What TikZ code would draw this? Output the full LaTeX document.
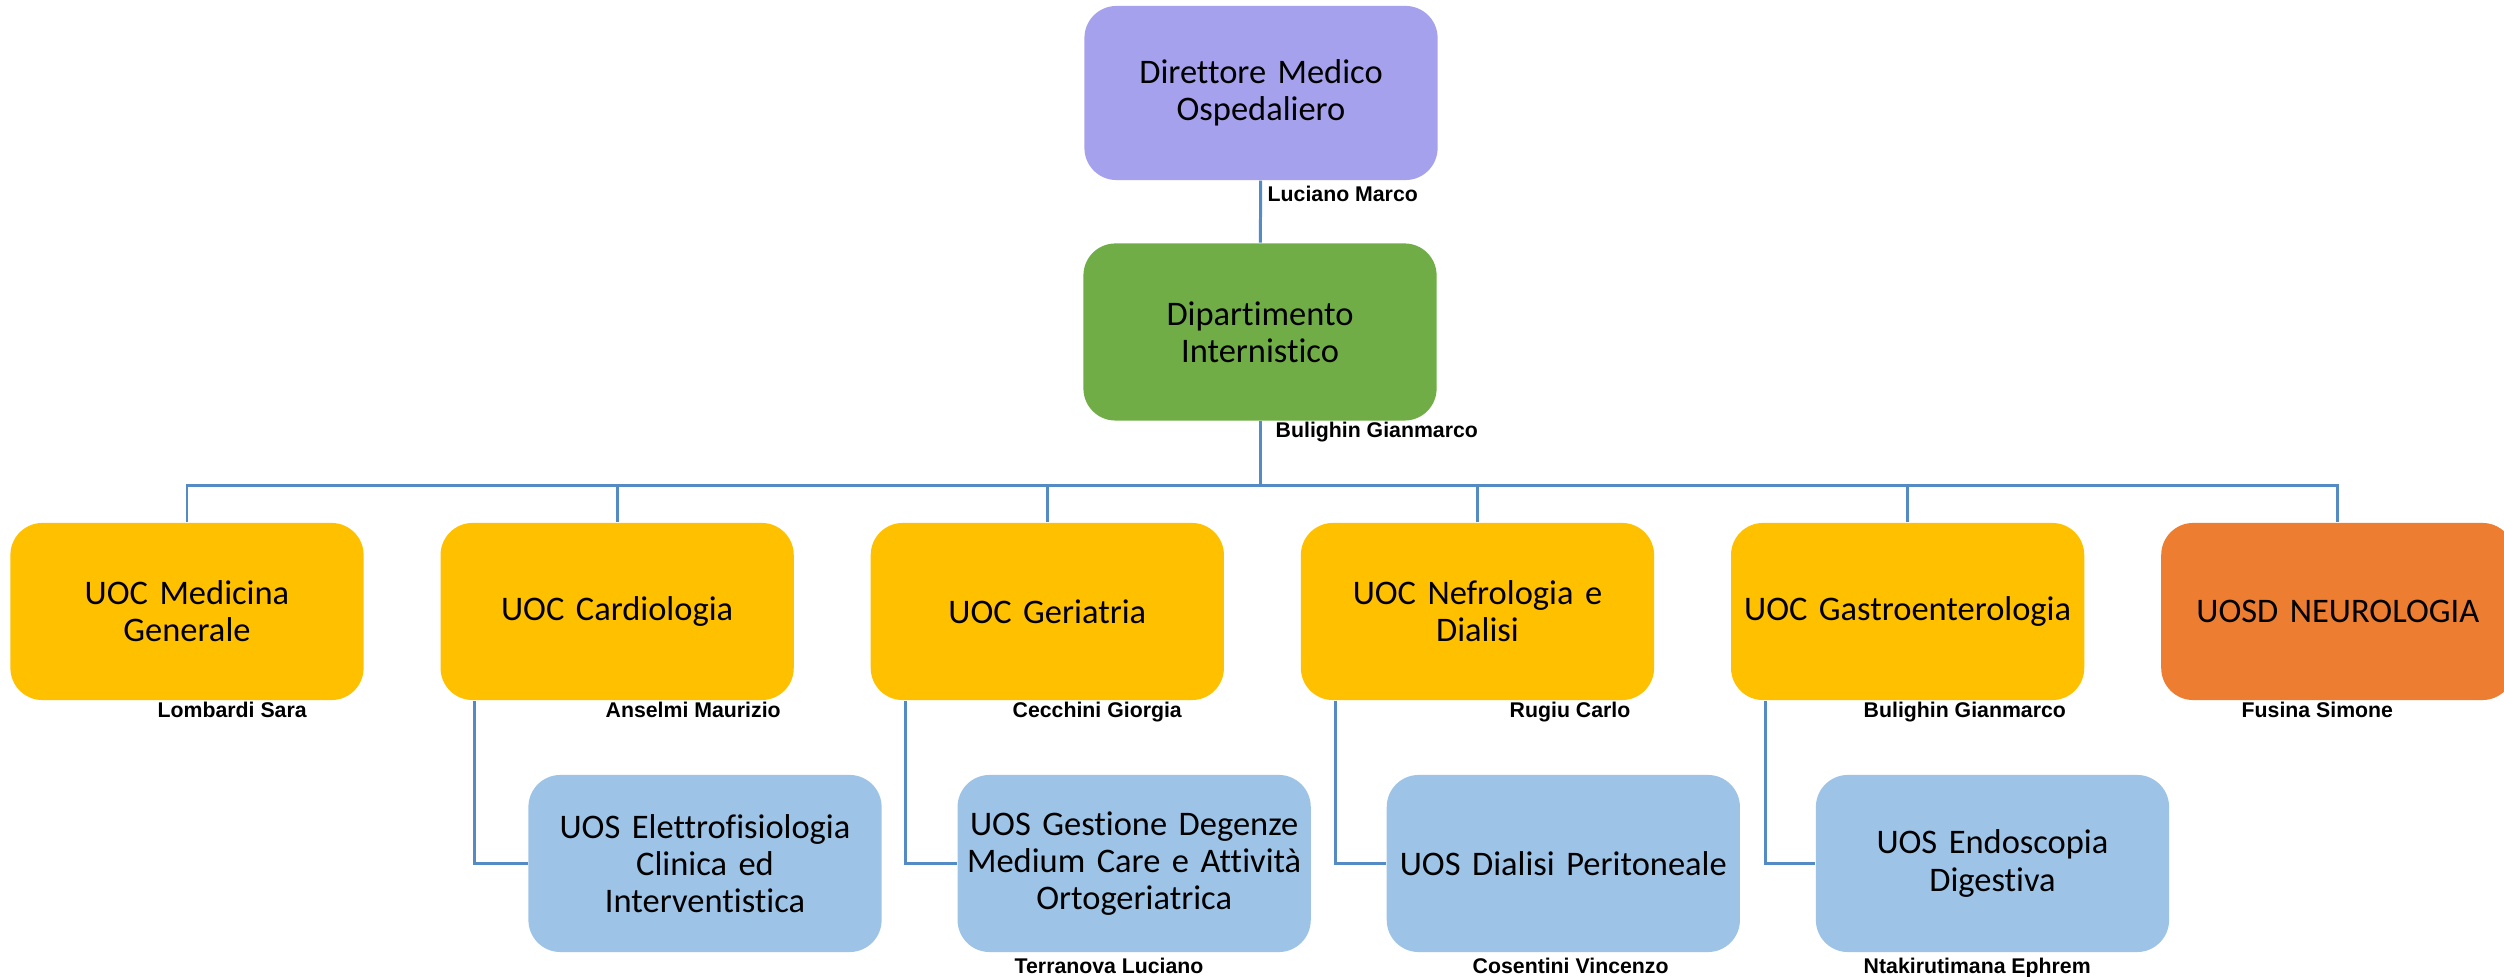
\documentclass[tikz,border=0pt]{standalone}
\usepackage{fontspec}
\setmainfont{Carlito}[Ligatures=NoCommon]
\newfontfamily\namefont{Liberation Sans}
\usepackage{tikz}
\usetikzlibrary{positioning,calc}

\definecolor{lilla}{RGB}{166,161,236}
\definecolor{verde}{RGB}{112,173,71}
\definecolor{giallo}{RGB}{255,192,0}
\definecolor{arancio}{RGB}{237,125,49}
\definecolor{azzurro}{RGB}{157,195,230}
\definecolor{linkblue}{RGB}{84,139,197}

\tikzset{
	unitbox/.style = {rectangle, rounded corners=0.32cm, minimum width=3.53cm, minimum height=1.77cm,
		text width=3.45cm, inner xsep=0.04cm, align=center, font=\fontsize{9.8}{10.6}\selectfont},
	uoc/.style = {unitbox, fill=giallo},
	uos/.style = {unitbox, fill=azzurro},
	person/.style = {anchor=base west, inner sep=0pt, font=\namefont\bfseries\fontsize{6.05}{7}\selectfont},
	link/.style = {draw=linkblue, line width=0.85pt}
}

\begin{document}
\begin{tikzpicture}[x=0.01cm,y=-0.01cm]
\useasboundingbox (0,0) rectangle (2504,977);

% vertici
\node [unitbox, fill=lilla, minimum height=1.74cm] (direttore) at (1261,93) {Direttore Medico\\Ospedaliero};
\node [unitbox, fill=verde] (dipartimento) at (1260,332) {Dipartimento\\Internistico};

% UOC
\node [uoc] (medicina) at (187,611.5) {UOC Medicina\\Generale};
\node [uoc, right=0.755cm of medicina] (cardiologia) {UOC Cardiologia};
\node [uoc, right=0.755cm of cardiologia] (geriatria) {UOC Geriatria};
\node [uoc, right=0.755cm of geriatria] (nefrologia) {UOC Nefrologia e\\Dialisi};
\node [uoc, right=0.755cm of nefrologia] (gastro) {UOC Gastroenterologia};
\node [unitbox, fill=arancio, right=0.755cm of gastro] (neurologia) {UOSD NEUROLOGIA};

% UOS
\node [uos] (elettro) at (705,863.5) {UOS Elettrofisiologia\\Clinica ed\\Interventistica};
\node [uos, right=0.745cm of elettro] (degenze) {UOS Gestione Degenze\\Medium Care e Attività\\Ortogeriatrica};
\node [uos, right=0.745cm of degenze] (peritoneale) {UOS Dialisi Peritoneale};
\node [uos, right=0.745cm of peritoneale] (endoscopia) {UOS Endoscopia\\Digestiva};

% responsabili
\node [person] (rDir) at (1267,202) {Luciano Marco};
\node [person] (rDip) at (1275,438) {Bulighin Gianmarco};
\node [person] (rMed) at (157,718) {Lombardi Sara};
\node [person] (rCar) at (605,718) {Anselmi Maurizio};
\node [person] (rGer) at (1012,718) {Cecchini Giorgia};
\node [person] (rNef) at (1509,718) {Rugiu Carlo};
\node [person] (rGas) at (1863,718) {Bulighin Gianmarco};
\node [person] (rNeu) at (2241,718) {Fusina Simone};
\node [person] (rDeg) at (1014,973) {Terranova Luciano};
\node [person] (rPer) at (1472,973) {Cosentini Vincenzo};
\node [person] (rEnd) at (1863,973) {Ntakirutimana Ephrem};

% collegamenti
\coordinate (bus) at (1260,486);
\draw [link] (direttore) -- (dipartimento);
\draw [link] (dipartimento) -- (bus);
\draw [link] (medicina.north) |- (bus) -| (neurologia.north);
\foreach \u in {cardiologia,geriatria,nefrologia,gastro}
	\draw [link] (\u.north) -- (\u.north |- bus);

\draw [link] ($(cardiologia.south west)+(35,0)$) |- (elettro.west);
\draw [link] ($(geriatria.south west)+(35,0)$) |- (degenze.west);
\draw [link] ($(nefrologia.south west)+(35,0)$) |- (peritoneale.west);
\draw [link] ($(gastro.south west)+(35,0)$) |- (endoscopia.west);
\end{tikzpicture}
\end{document}
